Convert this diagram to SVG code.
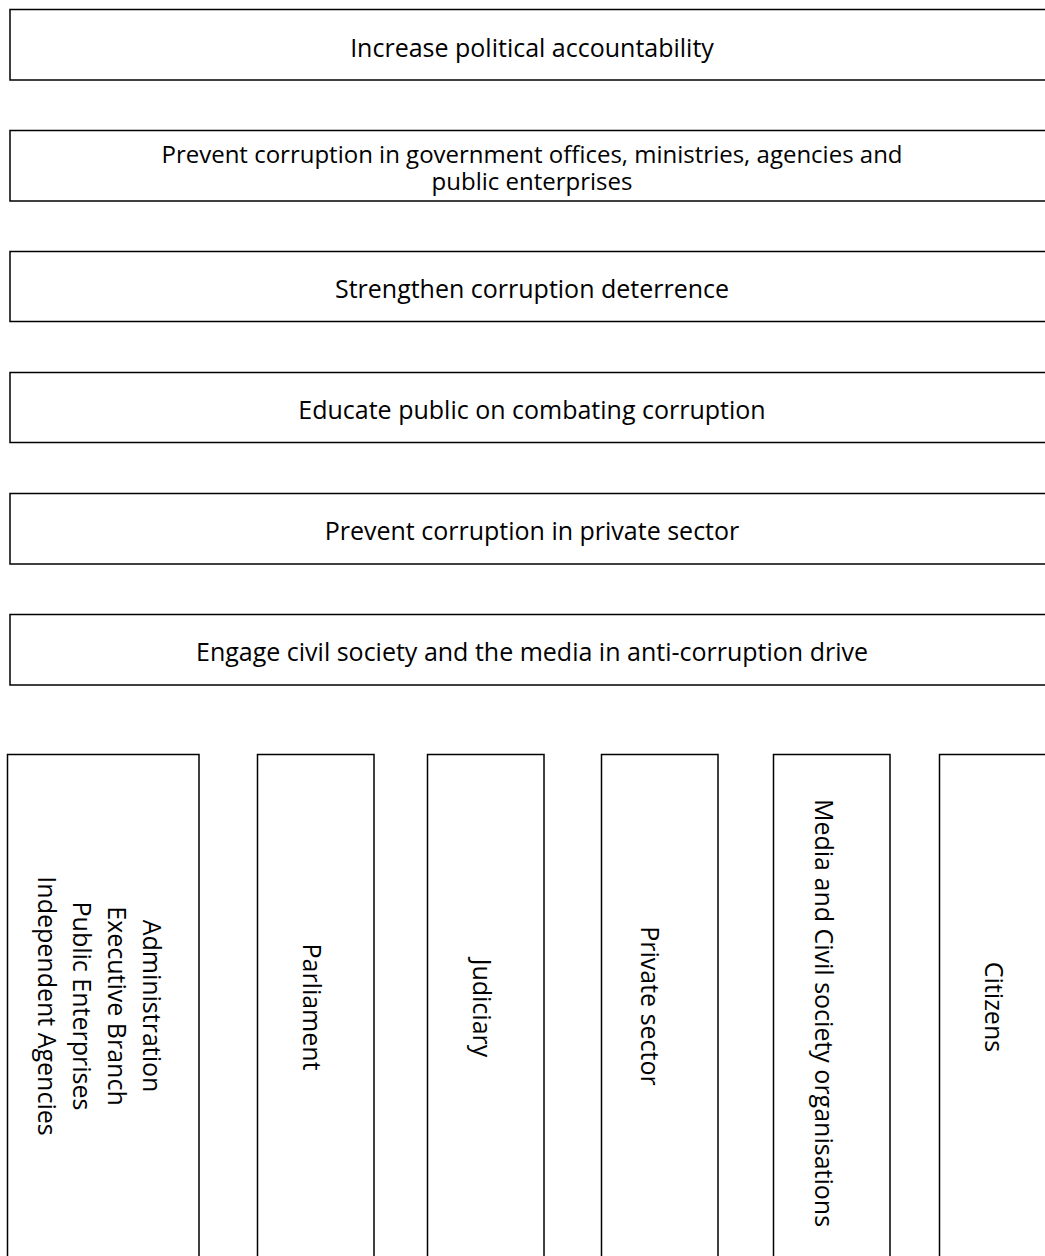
<svg xmlns="http://www.w3.org/2000/svg" width="1045" height="1256" viewBox="0 0 1045 1256">
<style>
.box{fill:#ffffff;stroke:#000000;stroke-width:1.5}
.t{font-family:"Open Sans","Noto Sans",sans-serif;font-size:25px;fill:#000000;text-anchor:middle}
.h{font-size:24px}
</style>
<rect width="1045" height="1256" fill="#ffffff"/>
<g id="connectors"></g>
<g id="n1"><rect class="box" x="10" y="9.5" width="1050" height="70.5"/><text class="t" x="532" y="57">Increase political accountability</text></g>
<g id="n2"><rect class="box" x="10" y="130.5" width="1050" height="70.5"/><text class="t h" x="532" y="163">Prevent corruption in government offices, ministries, agencies and</text><text class="t h" x="532" y="190">public enterprises</text></g>
<g id="n3"><rect class="box" x="10" y="251.5" width="1050" height="70"/><text class="t" x="532" y="298">Strengthen corruption deterrence</text></g>
<g id="n4"><rect class="box" x="10" y="372.5" width="1050" height="70"/><text class="t" x="532" y="419">Educate public on combating corruption</text></g>
<g id="n5"><rect class="box" x="10" y="493.5" width="1050" height="70.5"/><text class="t" x="532" y="540">Prevent corruption in private sector</text></g>
<g id="n6"><rect class="box" x="10" y="614.5" width="1050" height="70.5"/><text class="t" x="532" y="661">Engage civil society and the media in anti-corruption drive</text></g>
<g id="v1"><rect class="box" x="7.5" y="754.5" width="191.5" height="520"/>
<text class="t" transform="translate(143,1006) rotate(90)">Administration</text>
<text class="t" transform="translate(108,1006) rotate(90)">Executive Branch</text>
<text class="t" transform="translate(73,1006) rotate(90)">Public Enterprises</text>
<text class="t" transform="translate(38,1006) rotate(90)">Independent Agencies</text></g>
<g id="v2"><rect class="box" x="257.5" y="754.5" width="116.5" height="520"/><text class="t" transform="translate(303,1007) rotate(90)">Parliament</text></g>
<g id="v3"><rect class="box" x="427.5" y="754.5" width="116.5" height="520"/><text class="t" transform="translate(473,1008) rotate(90)">Judiciary</text></g>
<g id="v4"><rect class="box" x="601.5" y="754.5" width="116.5" height="520"/><text class="t" transform="translate(641,1006) rotate(90)">Private sector</text></g>
<g id="v5"><rect class="box" x="773.5" y="754.5" width="116.5" height="520"/><text class="t" transform="translate(815,1013) rotate(90)">Media and Civil society organisations</text></g>
<g id="v6"><rect class="box" x="939.5" y="754.5" width="120" height="520"/><text class="t" transform="translate(985,1007) rotate(90)">Citizens</text></g>
</svg>
